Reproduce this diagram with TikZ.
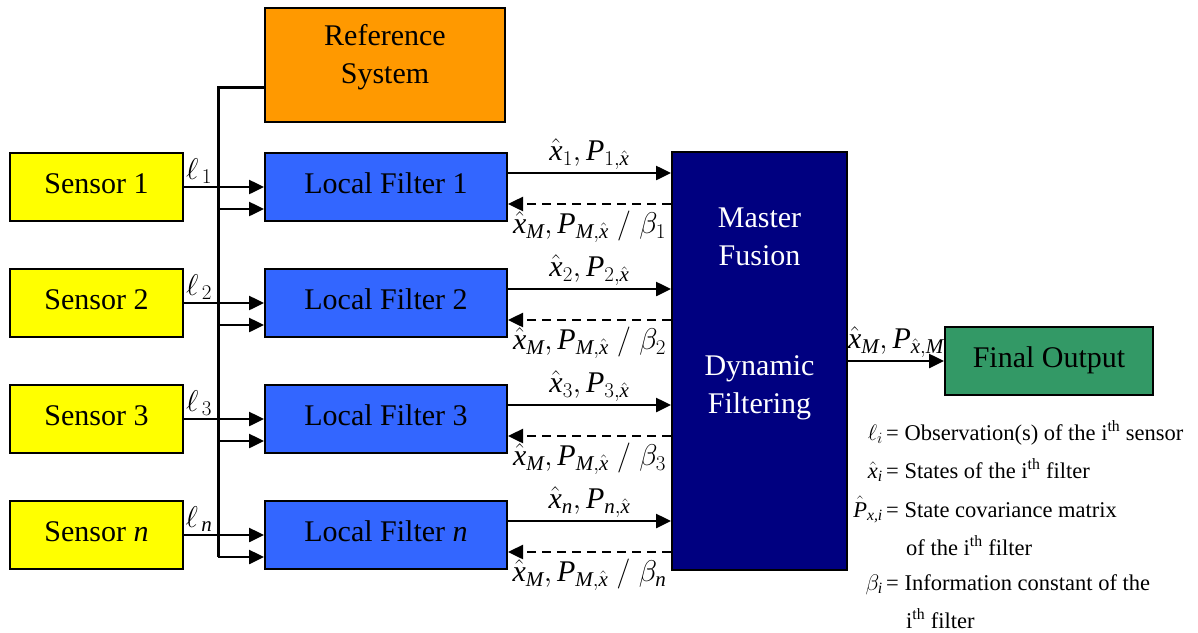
\RequirePackage{fix-cm}
\documentclass[tikz,border=0pt]{standalone}
\usepackage{amstext}
\usepackage{fontspec}
\setmainfont{Liberation Serif}
\usetikzlibrary{arrows.meta}

\definecolor{sensorYellow}{HTML}{FFFF00}
\definecolor{refOrange}{HTML}{FF9900}
\definecolor{filterBlue}{HTML}{3366FF}
\definecolor{masterNavy}{HTML}{000080}
\definecolor{outGreen}{HTML}{339966}

% italic letters in the Times style of the figure
\newcommand{\vx}{\hat{\textit{x}}}
\newcommand{\vP}{\textit{P}}
\newcommand{\vM}{\textit{M}}

\tikzset{
  box/.style={draw=black, line width=2pt, minimum height=68pt, inner sep=0pt,
    align=center, text height=20pt, text depth=8pt, font=\fontsize{30}{38}\selectfont},
  bus/.style={line width=3pt},
  link/.style={line width=2.5pt, -{Triangle[length=15pt,width=14pt]}},
  feedback/.style={link, dash pattern=on 9pt off 6pt},
  lbl/.style={font=\fontsize{30}{38}\selectfont, inner sep=2pt},
  legend/.style={font=\fontsize{22.5}{26}\selectfont, inner sep=0pt},
}

\begin{document}
\begin{tikzpicture}[x=1pt,y=-1pt]
    \useasboundingbox (0,0) rectangle (1198,632);

    % Reference system and master block
    \node[box, fill=refOrange, minimum width=240pt, minimum height=114pt] (ref) at (385,65) {};
    \node[lbl, align=center] (reft) at (385,57) {Reference\\System};
    \node[box, fill=masterNavy, minimum width=175pt, minimum height=418pt] (master) at (759.5,361) {};
    \node[lbl, text=white, align=center] (mtop) at (759.5,237) {Master\\Fusion};
    \node[lbl, text=white, align=center] (mbot) at (759.5,388) {Dynamic\\Filtering};

    % Sensors, local filters and their links
    \foreach \i/\sub [evaluate=\i as \y using 187+116*(\i-1)] in {1/1, 2/2, 3/3, 4/\textit{n}} {
        \node[box, fill=sensorYellow, minimum width=173pt] (s\i) at (96.5,\y) {Sensor \sub};
        \node[box, fill=filterBlue, minimum width=242pt] (f\i) at (386,\y) {Local Filter \sub};
        \coordinate (b\i) at (218,\y+22);
        \coordinate (u\i) at (600,\y-14);
        \coordinate (d\i) at (600,\y+17);
        \node[lbl] (l\i) at (199,\y-16) {$\ell_{\,\sub}$};
        \draw[link] (s\i.east) -- (f\i.west);
        \draw[link] (b\i) -- (f\i.west |- b\i);
        \draw[link] (f\i.east |- u\i) -- node[lbl, above] (xu\i) {$\vx_{\sub},\vP_{\sub,\vx}$} (master.west |- u\i);
        \draw[feedback] (master.west |- d\i) -- node[lbl, below, inner sep=6pt] (xd\i) {$\vx_{\vM},\vP_{\vM,\vx}\;/\;\beta_{\sub}$} (f\i.east |- d\i);
    }

    % Common bus from the reference system
    \coordinate (btop) at (218,87);
    \draw[bus] (ref.west |- btop) -- (btop) -- (b4);

    % Output
    \node[box, fill=outGreen, minimum width=208pt] (out) at (1049,361) {Final Output};
    \draw[link] (master.east |- out) -- node[lbl, above] (xo) {$\vx_{\vM},\vP_{\vx,\vM}$} (out.west);

    % Legend
    \node[legend, anchor=base east] (k1) at (883,440) {$\ell_i$};
    \node[legend, anchor=base west] (t1) at (886,440) {= Observation(s) of the i\textsuperscript{th} sensor};
    \node[legend, anchor=base east] (k2) at (883,478) {$\hat{\textit{x}}_{\textit{i}}$};
    \node[legend, anchor=base west] (t2) at (886,478) {= States of the i\textsuperscript{th} filter};
    \node[legend, anchor=base east] (k3) at (883,517) {$\hat{\textit{P}}_{\textit{x,i}}$};
    \node[legend, anchor=base west] (t3) at (886,517) {= State covariance matrix};
    \node[legend, anchor=base west] (t4) at (906,555) {of the i\textsuperscript{th} filter};
    \node[legend, anchor=base east] (k5) at (883,590) {$\beta_{\textit{i}}$};
    \node[legend, anchor=base west] (t5) at (886,590) {= Information constant of the};
    \node[legend, anchor=base west] (t6) at (906,628) {i\textsuperscript{th} filter};
\end{tikzpicture}
\end{document}
